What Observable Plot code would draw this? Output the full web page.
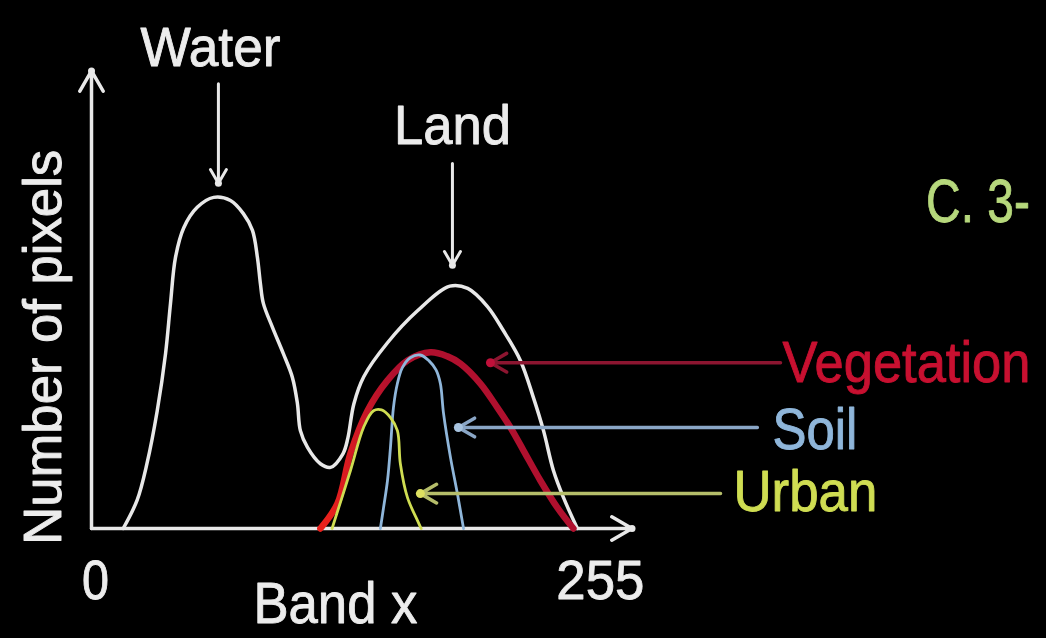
<!DOCTYPE html>
<html><head><meta charset="utf-8">
<script src="https://cdn.jsdelivr.net/npm/d3@7"></script>
<script src="https://cdn.jsdelivr.net/npm/@observablehq/plot@0.6"></script>
<style>html,body{margin:0;padding:0;background:#000;overflow:hidden}</style>
</head><body><div id="chart"></div>
<script>
// ---- data: band value (0-255) vs. relative number of pixels ----
const waterLand = [[14,0],[21,6.2],[26,14.3],[31.2,26],[35.4,38.6],[37.9,49.7],[40.4,59.8],[44.6,66.4],[51.4,70.9],[59.7,73.1],[68.2,72.4],[74.7,69.5],[79.3,65.8],[81.8,59.8],[83.3,54.1],[84.8,49.7],[89.4,44.4],[94.9,38.6],[99.5,33.3],[102,27.6],[103.5,21.6],[107.1,17.9],[113.6,14.3],[118.7,13.5],[125,16.5],[127.5,20],[130.5,27.5],[135.5,33.5],[147.5,41],[162.5,48],[179,53.5],[188,53],[198,49],[206,43.7],[214.6,37.1],[221.2,28.9],[226.3,21.6],[231.3,12.8],[236.4,6.8],[243.4,0]];
const vegetation = [[113.6,0],[122.2,5.5],[128.8,16.6],[137.4,26],[147.5,32.7],[157.6,37.1],[169.2,38.9],[177.8,38],[184.3,36.4],[194.4,32],[203,26.7],[209.6,22.3],[216.2,17.2],[224.7,10.6],[233.3,4.6],[241.4,0]];
const soil = [[143.9,0],[145.5,4.6],[147.5,10.6],[149,17.9],[150.5,26.7],[152.5,32],[155,35.5],[159,37.7],[164,38.3],[168.5,37],[172,35],[174.2,32],[175.8,25.4],[179.3,15.7],[182.8,7.7],[185.9,0]];
const urban = [[119.5,0],[128.8,12.8],[135.4,22.3],[140.4,26],[144.5,26.2],[149,24.5],[152.5,21.6],[154,14.3],[157.6,6.8],[162.6,1.8],[164.5,0]];

const xTickValues = [0, 255];
const xTickLabels = ["0", "255"];
const xLabel = "Band x";
const yLabel = "Number of pixels";
const sideTitle = "C. 3-";

// peak call-outs (text + arrow, in data coordinates)
const peakLabels = [
  {text: "Water", x: 58.1, y: 106, y1: 98.2, y2: 76.2, ax: 62.1},
  {text: "Land",  x: 180.3, y: 88.9, y1: 80.6, y2: 58.1, ax: 180.3}
];
// class call-outs (leader from label to curve)
const classLabels = [
  {text: "Vegetation", x: 347.0, y: 36.4, lx1: 346, lx2: 199.5, ly: 36.6},
  {text: "Soil",       x: 341.9, y: 21.6, lx1: 334.3, lx2: 183.3, ly: 22.3},
  {text: "Urban",      x: 322.2, y: 7.8,  lx1: 315.7, lx2: 164.1, ly: 7.7}
];
const axisArrows = [{x1: -2, y1: 0, x2: 271, y2: 0}, {x1: -2, y1: 0, x2: -2, y2: 101}];

// ---- styles ----
const FONT = "'Liberation Sans', Arial, Helvetica, sans-serif";
const WHITE = "#e8e8e8";
const classColor = {Vegetation: "#c81030", Soil: "#8fb6da", Urban: "#cfdd52"};
const leaderColor = {Vegetation: "#8c1530", Soil: "#8aa6c6", Urban: "#b5bd6a"};
const headColor = {Vegetation: "#c0103a", Soil: "#a8c4e0", Urban: "#dde060"};
const textWidths = {"Water":140, "Land":117, "Number of pixels":395, "Vegetation":248, "Soil":85, "Urban":144, "0":27, "255":88, "Band x":164, "C. 3-":104};

const pt = {x: d => d[0], y: d => d[1], curve: "catmull-rom", strokeLinecap: "round", strokeLinejoin: "round"};
const txt = {fontFamily: FONT, lineAnchor: "middle", strokeWidth: 0.9};

const chart = Plot.plot({
  width: 1046, height: 638,
  marginLeft: 91, marginRight: 412.5, marginTop: 75, marginBottom: 110,
  x: {domain: [-2, 272], axis: null},
  y: {domain: [0, 100], axis: null},
  style: {background: "#000", color: "#fff", overflow: "visible"},
  marks: [
    // axes with arrow heads
    Plot.arrow(axisArrows, {x1: "x1", y1: "y1", x2: "x2", y2: "y2", stroke: WHITE, strokeWidth: 3.5, headLength: 10}),
    Plot.dot(axisArrows, {x: "x2", y: "y2", r: 3.5, fill: WHITE}),
    // curves
    Plot.line(waterLand, {...pt, stroke: WHITE, strokeWidth: 3.5}),
    Plot.line(vegetation, {...pt, stroke: "url(#vegGrad)", strokeWidth: 6.5}),
    Plot.line(soil, {...pt, stroke: classColor.Soil, strokeWidth: 2.8}),
    Plot.line(urban, {...pt, stroke: classColor.Urban, strokeWidth: 2.8}),
    // peak arrows and labels
    Plot.arrow(peakLabels, {x1: "ax", x2: "ax", y1: "y1", y2: "y2", stroke: WHITE, strokeWidth: 3, headLength: 8}),
    Plot.dot(peakLabels, {x: "ax", y: "y2", r: 3.5, fill: WHITE}),
    Plot.text(peakLabels, {...txt, x: "x", y: "y", text: "text", fill: "#ececec", stroke: "#ececec", fontSize: 56, textAnchor: "middle"}),
    // class leaders and labels
    Plot.arrow(classLabels, {x1: "lx1", x2: "lx2", y1: "ly", y2: "ly", stroke: d => leaderColor[d.text], strokeWidth: 3.5, headLength: 8}),
    Plot.dot(classLabels, {x: "lx2", y: "ly", r: 4.5, fill: d => headColor[d.text]}),
    Plot.text(classLabels, {...txt, x: "x", y: "y", text: "text", fill: d => classColor[d.text], stroke: d => classColor[d.text], fontSize: 57, textAnchor: "start"}),
    // tick labels and axis labels
    Plot.text(xTickValues, {...txt, x: d => d, y: -11.7, text: (d, i) => xTickLabels[i], fill: "#ececec", stroke: "#ececec", fontSize: 56, textAnchor: "middle"}),
    Plot.text([xLabel], {...txt, x: 121.2, y: -16.8, text: d => d, fill: "#ececec", stroke: "#ececec", fontSize: 58, textAnchor: "middle"}),
    Plot.text([yLabel], {...txt, x: -26, y: 40, text: d => d, rotate: -90, fill: "#ececec", stroke: "#ececec", fontSize: 53, textAnchor: "middle"}),
    Plot.text([sideTitle], {...txt, x: 419.5, y: 72.1, text: d => d, fill: "#b6d87c", stroke: "#b6d87c", fontSize: 62, textAnchor: "start"})
  ]
});

// gradient for vegetation curve (brighter red on its rising edge)
const xs = chart.scale("x");
const defs = d3.select(chart).insert("defs", ":first-child");
const grad = defs.append("linearGradient").attr("id", "vegGrad").attr("gradientUnits", "userSpaceOnUse")
  .attr("x1", xs.apply(118)).attr("x2", xs.apply(150)).attr("y1", 0).attr("y2", 0);
grad.append("stop").attr("offset", "0%").attr("stop-color", "#e8201c");
grad.append("stop").attr("offset", "100%").attr("stop-color", "#b0102e");

document.getElementById("chart").appendChild(chart);

// condense lettering to the reference's widths with a horizontal scale (along the text direction)
chart.querySelectorAll("text").forEach(t => {
  const w = textWidths[t.textContent];
  if (!w) return;
  const natural = t.getComputedTextLength();
  if (!natural) return;
  const sx = w / natural;
  const tr = t.getAttribute("transform") || "";
  t.setAttribute("transform", (tr + ` scale(${sx.toFixed(4)},1)`).trim());
});
</script>
</body></html>
